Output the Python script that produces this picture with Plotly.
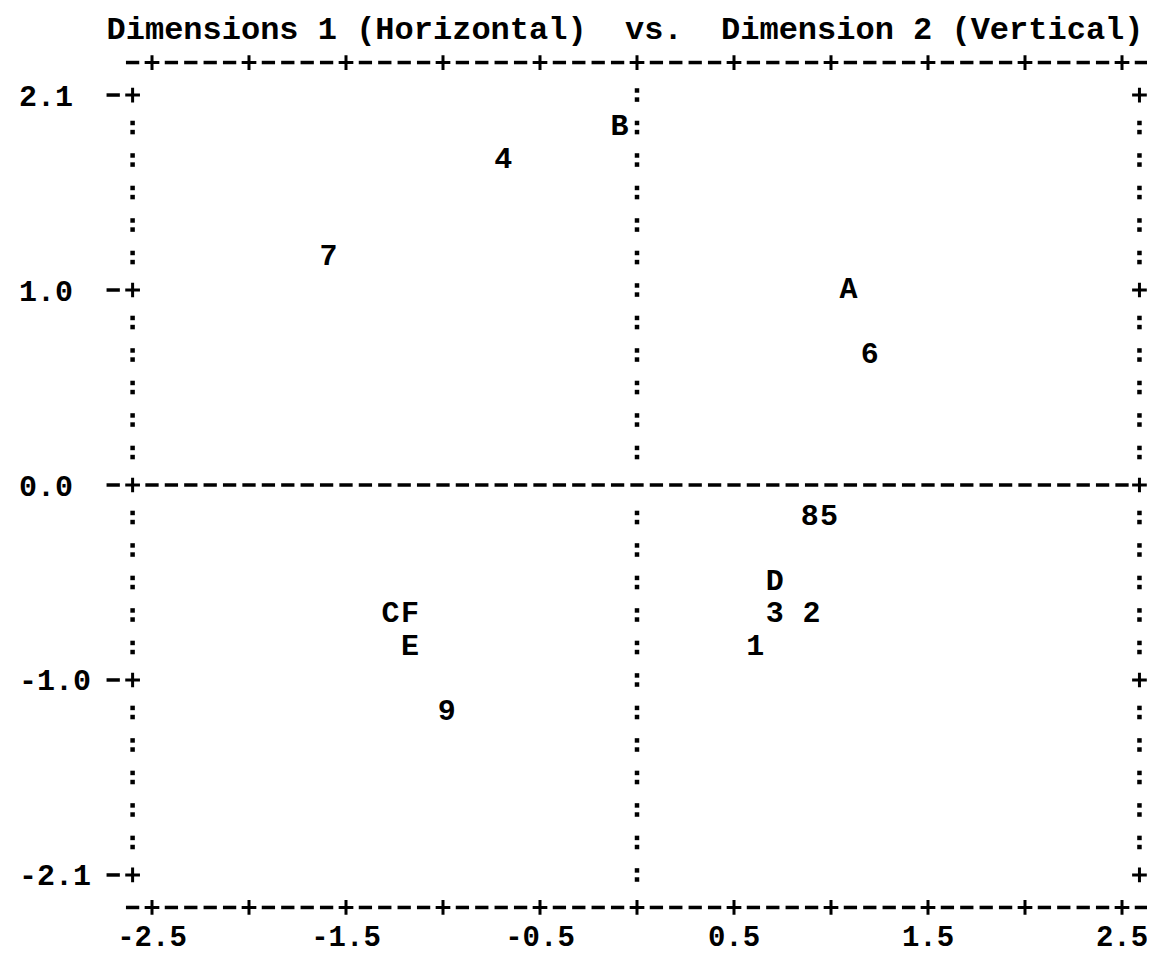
import plotly.graph_objects as go

# ---------------- data ----------------
point_labels = ["1", "2", "3", "4", "5", "6", "7", "8", "9",
                "A", "B", "C", "D", "E", "F"]
dim1 = [0.61, 0.90, 0.71, -0.69, 0.99, 1.20, -1.59, 0.89, -0.98,
        1.09, -0.09, -1.27, 0.71, -1.17, -1.17]
dim2 = [-0.875, -0.70, -0.70, 1.75, -0.175, 0.70, 1.225, -0.175, -1.225,
        1.05, 1.925, -0.70, -0.525, -0.875, -0.70]

x_tick_vals = [-2.5, -1.5, -0.5, 0.5, 1.5, 2.5]
x_tick_text = ["-2.5", "-1.5", "-0.5", "0.5", "1.5", "2.5"]
y_tick_vals = [2.1, 1.05, 0.0, -1.05, -2.1]
y_tick_text = ["2.1", "1.0", "0.0", "-1.0", "-2.1"]

title_text = "Dimensions 1 (Horizontal)  vs.  Dimension 2 (Vertical)"

# ---------------- ASCII-style frame geometry ----------------
FONT = "Liberation Mono"
ROW = 0.175          # one text row in y units
COL = 0.1            # one text column in x units
Y_TOP = 2.1
N_ROWS = 25
LABEL_ROWS = {0, 6, 12, 18, 24}
X_LEFT = -2.6
X_RIGHT = 2.59
X_MID = 0.0
DOT = 0.0245

dash_x, dash_y, plus_x, plus_y, dot_x, dot_y = [], [], [], [], [], []

def colon(x, y):
    dot_x.extend([x, x])
    dot_y.extend([y + DOT, y - DOT])

# top & bottom borders
for yb in (Y_TOP + ROW, -Y_TOP - ROW):
    for c in range(-26, 27):
        if c % 5 == 0 and -25 <= c <= 25:
            plus_x.append(c * COL); plus_y.append(yb)
        else:
            dash_x.append(c * COL); dash_y.append(yb)

for k in range(N_ROWS):
    y = Y_TOP - ROW * k
    if k in LABEL_ROWS:
        dash_x.append(X_LEFT - COL); dash_y.append(y)
        plus_x.append(X_LEFT); plus_y.append(y)
        plus_x.append(X_RIGHT); plus_y.append(y)
    else:
        colon(X_LEFT, y)
        colon(X_RIGHT, y)
    if k == 12:
        for c in range(-25, 26):
            dash_x.append(c * COL); dash_y.append(y)
    else:
        colon(X_MID, y)

fig = go.Figure()
fig.add_trace(go.Scatter(
    x=dash_x, y=dash_y, mode="markers", hoverinfo="skip", showlegend=False,
    cliponaxis=False,
    marker=dict(symbol="line-ew", size=9.5, color="black",
                line=dict(color="black", width=3.5))))
fig.add_trace(go.Scatter(
    x=plus_x, y=plus_y, mode="markers", hoverinfo="skip", showlegend=False,
    cliponaxis=False,
    marker=dict(symbol="cross-thin", size=10.5, color="black",
                line=dict(color="black", width=3))))
fig.add_trace(go.Scatter(
    x=dot_x, y=dot_y, mode="markers", hoverinfo="skip", showlegend=False,
    cliponaxis=False,
    marker=dict(symbol="square", size=4.5, color="black", line=dict(width=0))))

fig.add_trace(go.Scatter(
    x=dim1, y=dim2, mode="text", text=point_labels, showlegend=False,
    textposition="middle center", cliponaxis=False,
    textfont=dict(family=FONT, size=30, color="black", weight="bold")))

# page pixel mapping: x=0 -> 637px, 194 px/unit ; y=0 -> 485px, 185.7 px/unit
# (the page body has an 8px margin, so the figure is 8px smaller and offset)
X0, SX = 637.0, 194.0
Y0, SY = 485.0, 185.7
OFF = 8
W, H = 1155 - OFF, 955 - OFF
L, R, T, B = 100, 1153, 40, 916          # plot area in page pixels
xr = [(L - X0) / SX, (R - X0) / SX]
yr = [-(B - Y0) / SY, (Y0 - T) / SY]

nb = "\u00a0"
y_tt = [t if t.startswith("-") else t + nb for t in y_tick_text]

fig.update_layout(
    width=W, height=H,
    margin=dict(l=L - OFF, r=W - (R - OFF), t=T - OFF, b=H - (B - OFF)),
    paper_bgcolor="white", plot_bgcolor="white",
    title=dict(text=title_text.replace(" ", nb), x=(625 - OFF) / W,
               xref="container", xanchor="center",
               y=1 - (28 - OFF) / H, yref="container", yanchor="middle",
               font=dict(family=FONT, size=32, color="black", weight="bold")),
    xaxis=dict(range=xr, tickvals=x_tick_vals, ticktext=x_tick_text,
               showgrid=False, zeroline=False, showline=False, ticks="",
               automargin=False, ticklabeloverflow="allow",
               tickfont=dict(family=FONT, size=29, color="black", weight="bold")),
    yaxis=dict(range=yr, tickvals=y_tick_vals, ticktext=y_tt,
               showgrid=False, zeroline=False, showline=False, ticks="",
               automargin=False, ticklabelstandoff=8,
               tickfont=dict(family=FONT, size=30, color="black", weight="bold")),
)

fig.write_html("out.html")
